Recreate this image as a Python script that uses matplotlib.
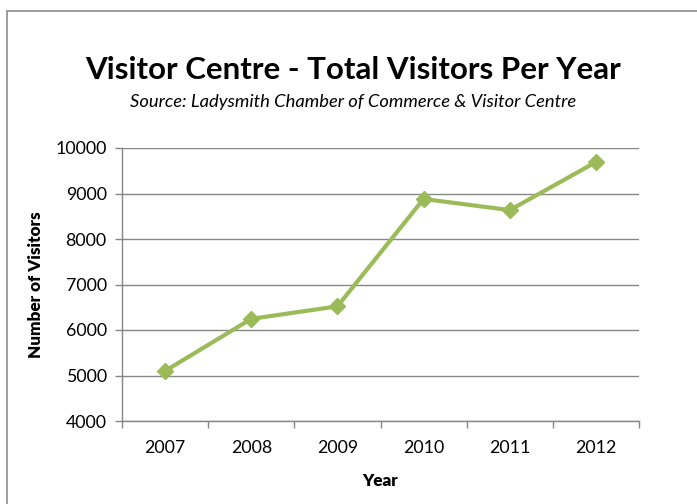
import matplotlib
matplotlib.use('Agg')
import matplotlib.pyplot as plt
from matplotlib.patches import Rectangle

plt.rcParams['font.family'] = ['Lato', 'DejaVu Sans']

# data
years = ['2007', '2008', '2009', '2010', '2011', '2012']
visitors = [5100, 6245, 6520, 8880, 8635, 9690]
y_ticks = [4000, 5000, 6000, 7000, 8000, 9000, 10000]

GRID = '#868686'
GREEN = '#9BBB59'

fig = plt.figure(figsize=(6.97, 5.04), dpi=100)
ax = fig.add_axes([122 / 697, 1 - 421 / 504, (639 - 122) / 697, (421 - 148) / 504])

# outer chart frame (cut off at right and bottom like the reference)
W, H = 697, 504
fig.patches.append(Rectangle((7 / W, -0.1), 1.2, 1 - 11 / H + 0.1,
                             transform=fig.transFigure, fill=False,
                             edgecolor='#8c8c8c', lw=1.2))

x = list(range(len(years)))
ax.plot(x, visitors, color=GREEN, lw=3, marker='D', ms=8.5,
        markerfacecolor=GREEN, markeredgecolor=GREEN, zorder=3)

ax.set_xlim(-0.5, len(years) - 0.5)
ax.set_ylim(4000, 10000)
ax.set_yticks(y_ticks)
ax.set_yticklabels([str(v) for v in y_ticks])
ax.yaxis.grid(True, color=GRID, lw=1)
ax.set_axisbelow(True)

# ticks sit between categories, labels at category centres
ax.set_xticks([i - 0.5 for i in range(len(years) + 1)])
ax.set_xticklabels([''] * (len(years) + 1))
ax.set_xticks(x, minor=True)
ax.set_xticklabels(years, minor=True)
ax.tick_params(axis='x', which='minor', length=0, pad=14, labelsize=12.8)
ax.tick_params(axis='x', which='major', length=5, color=GRID, width=1)
ax.tick_params(axis='y', length=5, color=GRID, width=1, labelsize=12.8, pad=6)

for s in ['top', 'right']:
    ax.spines[s].set_visible(False)
for s in ['left', 'bottom']:
    ax.spines[s].set_color(GRID)
    ax.spines[s].set_linewidth(1)

ax.set_xlabel('Year', fontsize=12.3, fontweight='heavy', labelpad=12)
ax.set_ylabel('Number of Visitors', fontsize=12.3, fontweight='heavy', labelpad=8)

fig.text(353 / W, 1 - 70 / H, 'Visitor Centre - Total Visitors Per Year',
         ha='center', va='center', fontsize=22.5, fontweight='bold')
fig.text(353 / W, 1 - 102 / H, 'Source: Ladysmith Chamber of Commerce & Visitor Centre',
         ha='center', va='center', fontsize=13.2, style='italic')

fig.savefig('out.png', dpi=100)
